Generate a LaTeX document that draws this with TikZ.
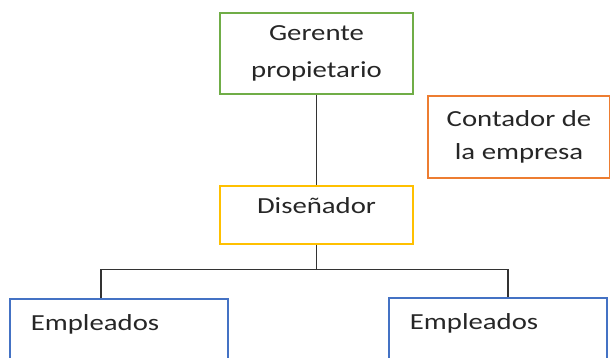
\documentclass[tikz,border=0pt]{standalone}
\usepackage{fontspec}
\setmainfont{Carlito}[FakeStretch=1.25]
\usetikzlibrary{positioning,calc}
\definecolor{boxGreen}{HTML}{70AD47}
\definecolor{boxOrange}{HTML}{ED7D31}
\definecolor{boxYellow}{HTML}{FFC000}
\definecolor{boxBlue}{HTML}{4472C4}

\begin{document}
\begin{tikzpicture}[x=1pt,y=-1pt]
\tikzset{myFont/.style={font=\fontsize{23}{37}\selectfont,text=black!85}}
\tikzset{myBox/.style={draw,line width=1.8pt,myFont,inner sep=0pt,minimum width=193pt,align=center}}
\tikzset{empBox/.style={myBox,draw=boxBlue,anchor=north west,minimum width=218pt,text width=176pt,inner xsep=21pt,inner ysep=15pt,text height=17pt,text depth=33pt,align=left}}
\tikzset{myLink/.style={draw,line width=1.2pt,black!80}}

\clip (0,0) rectangle (610,358);
\useasboundingbox (0,0) rectangle (610,358);

\node[myBox,draw=boxGreen,minimum height=81pt] (gerente) at (316.5,53.5) {Gerente\\propietario};
\node[myBox,draw=boxYellow,minimum height=58pt,text depth=19pt,below=90pt of gerente] (disenador) {Diseñador};
\node[myBox,draw=boxOrange,minimum width=182pt,minimum height=82pt,font=\fontsize{23}{33}\selectfont] (contador) at (519,137) {Contador de\\la empresa};

\node[empBox] (emp1) at (9,298) {Empleados};
\node[empBox] (emp2) at (388,297) {Empleados};

\path[myLink] (gerente.south) -- (disenador.north);
\path[myLink] (disenador.south) -- ++(0,25) coordinate (bus);
\path[myLink] ($(emp1.north)+(-18,0)$) |- (bus) -| ($(emp2.north)+(10,0)$);
\end{tikzpicture}
\end{document}
